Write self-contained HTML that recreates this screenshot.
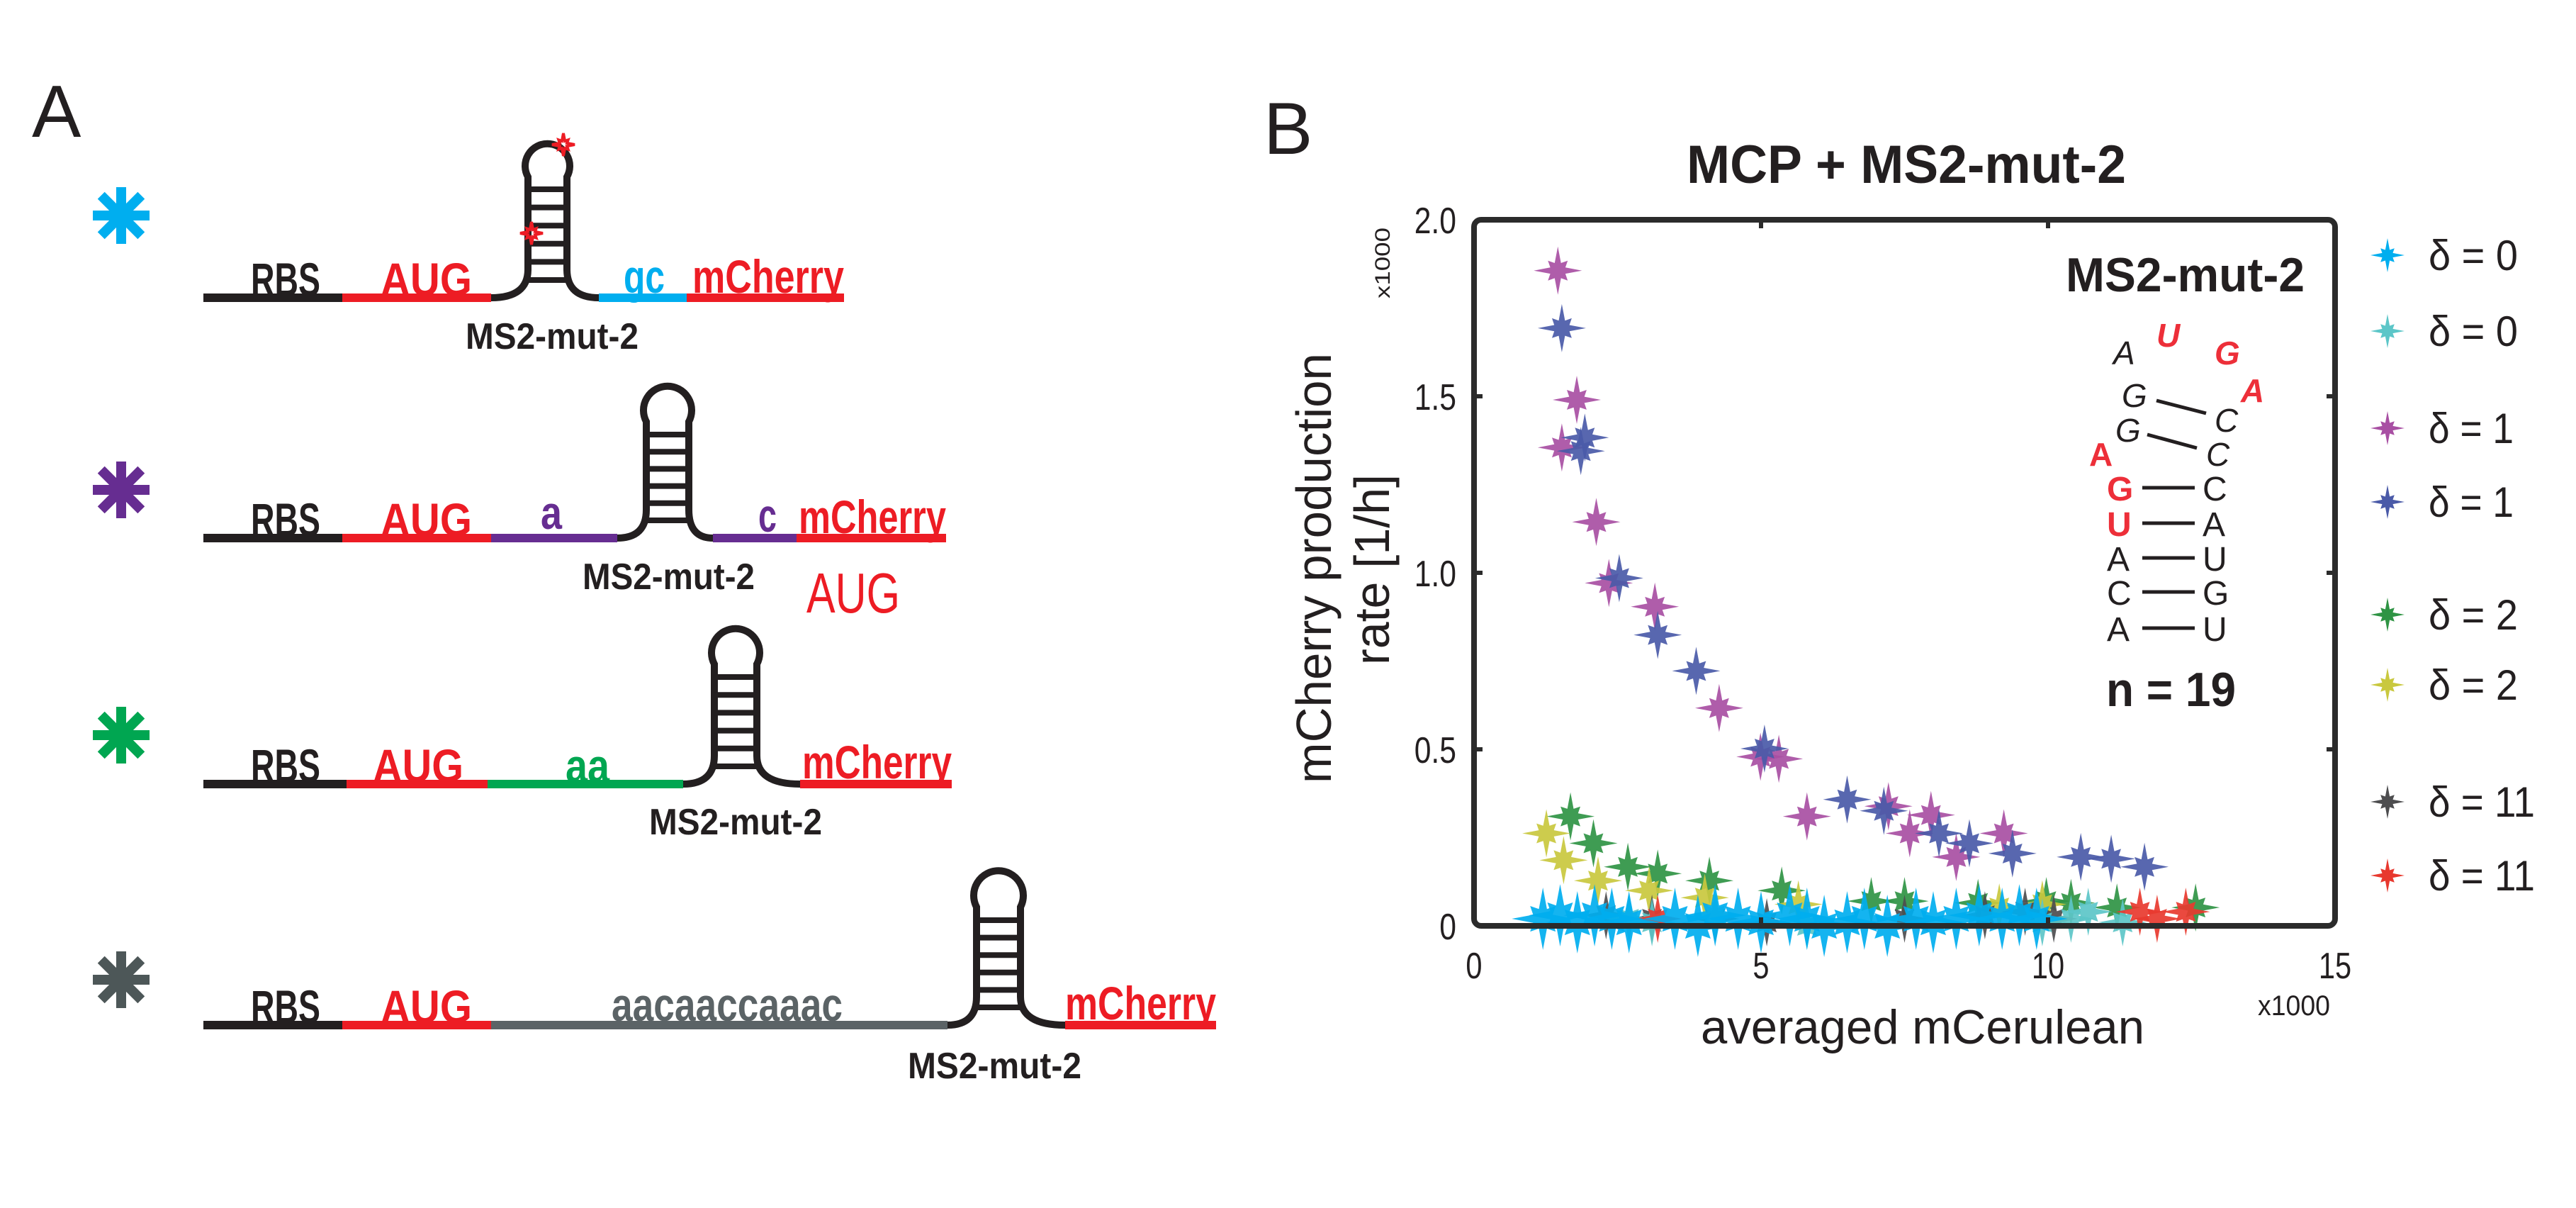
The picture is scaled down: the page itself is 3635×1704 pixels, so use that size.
<!DOCTYPE html>
<html><head><meta charset="utf-8"><style>
html,body{margin:0;padding:0;background:#fff;}
svg{display:block;}
text{font-family:"Liberation Sans",sans-serif;}
</style></head><body>
<svg id="fig" width="3635" height="1704" viewBox="0 0 3635 1704" xmlns="http://www.w3.org/2000/svg">
<rect width="3635" height="1704" fill="#fff"/>
<g id="panelA">
<text x="45" y="193" font-size="104" fill="#231f20">A</text>
</g>
<g id="panelB">
<text x="1783" y="217" font-size="104" fill="#231f20">B</text>
<text x="2380" y="258" font-size="76" font-weight="bold" fill="#231f20" textLength="620" lengthAdjust="spacingAndGlyphs">MCP + MS2-mut-2</text>
<text transform="translate(1878,1105) rotate(-90)" font-size="70" fill="#231f20" textLength="607" lengthAdjust="spacingAndGlyphs">mCherry production</text>
<text transform="translate(1960,938) rotate(-90)" font-size="70" fill="#231f20" textLength="269" lengthAdjust="spacingAndGlyphs">rate [1/h]</text>
<text transform="translate(1961,421) rotate(-90)" font-size="30" fill="#231f20" textLength="100" lengthAdjust="spacingAndGlyphs">x1000</text>
<text x="2400" y="1472" font-size="68" fill="#231f20" textLength="626" lengthAdjust="spacingAndGlyphs">averaged mCerulean</text>
<text x="3186" y="1432" font-size="40" fill="#231f20" textLength="102" lengthAdjust="spacingAndGlyphs">x1000</text>
<g id="plotArea"></g>
<g id="axes"></g>
<g id="inset">
<text x="2915" y="411" font-size="68" font-weight="bold" fill="#231f20" textLength="337" lengthAdjust="spacingAndGlyphs">MS2-mut-2</text>
<text x="2982" y="514" font-size="46" font-style="italic" fill="#231f20">A</text>
<text x="3043" y="489" font-size="46" font-style="italic" font-weight="bold" fill="#ed2f39">U</text>
<text x="3125" y="514" font-size="46" font-style="italic" font-weight="bold" fill="#ed2f39">G</text>
<text x="3162" y="567" font-size="46" font-style="italic" font-weight="bold" fill="#ed2f39">A</text>
<text x="2994" y="574" font-size="46" font-style="italic" fill="#231f20">G</text>
<text x="3125" y="609" font-size="46" font-style="italic" fill="#231f20">C</text>
<text x="2985" y="623" font-size="46" font-style="italic" fill="#231f20">G</text>
<text x="3113" y="657" font-size="46" font-style="italic" fill="#231f20">C</text>
<text x="2948" y="657" font-size="46" font-weight="bold" fill="#ed2f39">A</text>
<line x1="3043" y1="565" x2="3113" y2="583" stroke="#231f20" stroke-width="5"/>
<line x1="3030" y1="613" x2="3100" y2="632" stroke="#231f20" stroke-width="5"/>
<g id="pairs"></g>
<text x="2972" y="996" font-size="68" font-weight="bold" fill="#231f20" textLength="183" lengthAdjust="spacingAndGlyphs">n = 19</text>
</g>
<g id="legend"></g>
</g>
</svg>
<script>
const NS="http://www.w3.org/2000/svg";
function mk(tag,attrs,parent){const e=document.createElementNS(NS,tag);for(const k in attrs)e.setAttribute(k,attrs[k]);parent.appendChild(e);return e;}

const xTicks=[0,5,10,15];
const xTickLabels=['0','5','10','15'];
const yTicks=[0,0.5,1.0,1.5,2.0];
const yTickLabels=['0','0.5','1.0','1.5','2.0'];
const seriesNames=['δ = 0','δ = 0','δ = 1','δ = 1','δ = 2','δ = 2','δ = 11','δ = 11'];
const seriesColors=['#00aeef','#5cc6c8','#a84fa3','#4a5aa8','#2f9444','#c9c83e','#4d4d4f','#e8392f'];
const cyanX=[1.2,1.5,1.8,2.1,2.4,2.7,3.5,3.9,4.2,4.6,5.0,5.5,5.8,6.1,6.5,6.8,7.2,7.7,8.0,8.4,8.8,9.2,9.5,9.8];
const cyanY=[0.02,0.03,0.01,0.03,0.02,0.01,0.02,0.0,0.03,0.02,0.01,0.03,0.02,0.0,0.01,0.02,0.0,0.02,0.01,0.02,0.03,0.02,0.03,0.02];
const tealX=[2.7,3.1,4.2,5.8,9.9,10.4,10.7,11.3];
const tealY=[0.02,0.01,0.03,0.0,0.01,0.02,0.04,0.01];
const magentaX=[1.46,1.79,1.53,2.13,2.35,3.15,4.27,4.99,5.31,5.8,7.22,7.59,7.96,8.4,9.23];
const magentaY=[1.856,1.49,1.355,1.144,0.971,0.904,0.617,0.479,0.473,0.31,0.339,0.262,0.314,0.195,0.262];
const blueX=[1.53,1.93,1.86,2.53,3.2,3.87,5.06,6.5,7.14,8.1,8.63,9.38,10.57,11.1,11.68];
const blueY=[1.693,1.383,1.345,0.985,0.824,0.722,0.502,0.358,0.326,0.262,0.234,0.205,0.195,0.19,0.167];
const greenX=[1.68,2.08,2.68,3.2,4.1,5.36,6.92,7.5,8.78,9.97,10.4,11.2,12.57];
const greenY=[0.31,0.234,0.167,0.148,0.128,0.1,0.07,0.07,0.065,0.07,0.065,0.052,0.052];
const yellowX=[1.26,1.56,2.16,3.05,4.02,5.65,9.15,9.9];
const yellowY=[0.262,0.186,0.128,0.1,0.08,0.061,0.052,0.061];
const grayX=[2.3,3.1,4.2,5.1,7.5,8.9,9.6,10.1];
const grayY=[0.03,0.02,0.02,0.01,0.02,0.03,0.04,0.02];
const redX=[3.2,11.6,11.9,12.4];
const redY=[0.02,0.04,0.02,0.04];

const X0=2080,X1=3295,Y0=1306,Y1=310;
const sx=v=>X0+(v-0)/(15-0)*(X1-X0);
const sy=v=>Y0-(v-0)/(2.0-0)*(Y0-Y1);

function starPath(cx,cy,s){
  let p='';
  for(let i=0;i<16;i++){
    const a=i*Math.PI/8;
    let r;
    if(i%4===0)r=s; else if(i%4===2)r=s*0.58; else r=s*0.34;
    const x=cx+r*Math.cos(a),y=cy+r*Math.sin(a);
    p+=(i?'L':'M')+x.toFixed(1)+' '+y.toFixed(1);
  }
  return p+'Z';
}

const plot=document.getElementById('plotArea');
const allSeries=[[cyanX,cyanY,0],[tealX,tealY,1],[magentaX,magentaY,2],[blueX,blueY,3],[greenX,greenY,4],[yellowX,yellowY,5],[grayX,grayY,6],[redX,redY,7]];
const drawOrder=[4,5,2,3,6,1,7,0];
drawOrder.forEach(function(si){
  const s=allSeries.find(a=>a[2]===si);
  const g=mk('g',{},plot);
  
  
  s[0].forEach(function(xv,i){
    const big=(si===0)?44:34;
    const m=mk('path',{d:starPath(sx(xv),sy(s[1][i]),big),fill:seriesColors[si],'fill-opacity':0.92},g);
    
    
  });
});

const ax=document.getElementById('axes');
const box=mk('rect',{x:X0,y:Y1,width:X1-X0,height:Y0-Y1,rx:10,fill:'none',stroke:'#2b2b2b','stroke-width':8},ax);


xTicks.forEach(function(t,i){
  if(i>0&&i<xTicks.length-1){
    mk('line',{x1:sx(t),y1:Y1,x2:sx(t),y2:Y1+12,stroke:'#2b2b2b','stroke-width':6},ax);
    mk('line',{x1:sx(t),y1:Y0,x2:sx(t),y2:Y0-12,stroke:'#2b2b2b','stroke-width':6},ax);
  }
  const tl=mk('text',{x:sx(t),y:1380,'font-size':52,'text-anchor':'middle',fill:'#231f20',transform:'translate('+sx(t)+',0) scale(0.8,1) translate('+(-sx(t))+',0)'},ax);
  tl.textContent=xTickLabels[i];
  
  
});
yTicks.forEach(function(t,i){
  if(i>0&&i<yTicks.length-1){
    mk('line',{x1:X0,y1:sy(t),x2:X0+12,y2:sy(t),stroke:'#2b2b2b','stroke-width':6},ax);
    mk('line',{x1:X1,y1:sy(t),x2:X1-12,y2:sy(t),stroke:'#2b2b2b','stroke-width':6},ax);
  }
  const tl=mk('text',{x:2055,y:sy(t)+19,'font-size':52,'text-anchor':'end',fill:'#231f20',transform:'translate(2055,0) scale(0.82,1) translate(-2055,0)'},ax);
  tl.textContent=yTickLabels[i];
  
  
});

const pairL=['G','U','A','C','A'],pairR=['C','A','U','G','U'],pairBase=[706,756,805,853,904],pairRed=[true,true,false,false,false];
const pg=document.getElementById('pairs');
pairL.forEach(function(c,i){
  const a=mk('text',{x:2973,y:pairBase[i],'font-size':48,fill:pairRed[i]?'#ed2f39':'#231f20','font-weight':pairRed[i]?'bold':'normal'},pg);
  a.textContent=c;
  
  
  const b=mk('text',{x:3108,y:pairBase[i],'font-size':48,fill:'#231f20'},pg);
  b.textContent=pairR[i];
  
  
  mk('line',{x1:3023,y1:pairBase[i]-18,x2:3097,y2:pairBase[i]-18,stroke:'#231f20','stroke-width':5},pg);
});

const legY=[360,467,604,708,867,966,1131,1235];
const legW=[126,126,120,120,126,126,150,150];
const lg=document.getElementById('legend');
seriesNames.forEach(function(n,i){
  const m=mk('path',{d:starPath(3369,legY[i],24),fill:seriesColors[i]},lg);
  
  
  const t=mk('text',{x:3427,y:legY[i]+21,'font-size':60,fill:'#231f20',textLength:legW[i],lengthAdjust:'spacingAndGlyphs'},lg);
  t.textContent=n;
  
  
});

const A=document.getElementById('panelA');
function asterisk(cx,cy,col){
  const g=mk('g',{},A);
  
  
  for(let k=0;k<4;k++){
    const a=k*Math.PI/4;
    mk('line',{x1:cx-40*Math.sin(a),y1:cy-40*Math.cos(a),x2:cx+40*Math.sin(a),y2:cy+40*Math.cos(a),stroke:col,'stroke-width':14},g);
  }
}
function seg(x1,x2,y,col){mk('line',{x1:x1,y1:y,x2:x2,y2:y,stroke:col,'stroke-width':12},A);}
function txt(x,y,s,col,w,fs,name,bold){
  const t=mk('text',{x:x,y:y,'font-size':fs,fill:col,'font-weight':bold===false?'normal':'bold',textLength:w,lengthAdjust:'spacingAndGlyphs'},A);
  t.textContent=s;
  
  
}
function stemloop(sxl,sxr,lineY,topY,leftStart,rightEnd){
  const g=mk('g',{fill:'none',stroke:'#231f20','stroke-width':10},A);
  
  
  const r=(sxr-sxl)/2+4,cy=topY+r;
  mk('path',{d:'M'+leftStart+' '+lineY+' Q'+sxl+' '+lineY+' '+sxl+' '+(lineY-40)+' L'+sxl+' '+(cy+r*0.7)+' A'+r+' '+r+' 0 1 1 '+sxr+' '+(cy+r*0.7)+' L'+sxr+' '+(lineY-40)+' Q'+sxr+' '+lineY+' '+rightEnd+' '+lineY},g);
  const bot=lineY-25,top=cy+r+8;
  const n=6;
  for(let i=0;i<n;i++){const yy=top+(bot-top)*i/(n-1);mk('line',{x1:sxl,y1:yy,x2:sxr,y2:yy,'stroke-width':8},g);}
}
const black='#231f20',red='#ed1c24';
asterisk(171,304,'#00aeef');
seg(287,483,420,black);seg(483,693,420,red);
stemloop(745,800,420,196,693,845);
seg(845,969,420,'#00aeef');seg(969,1191,420,red);
txt(354,417,'RBS',black,98,66,'rbs-label');
txt(537,417,'AUG',red,129,66,'aug-label');
txt(880,413,'gc','#00aeef',58,66,'spacer-gc');
txt(977,413,'mCherry',red,214,66,'mcherry-label');
txt(657,492,'MS2-mut-2',black,244,52,'ms2-label');
mk('path',{d:starPath(795,204,16),fill:'none',stroke:red,'stroke-width':4},A);
mk('path',{d:starPath(750,329,16),fill:'none',stroke:red,'stroke-width':4},A);
asterisk(171,691,'#662d91');
seg(287,483,759,black);seg(483,693,759,red);seg(693,871,759,'#662d91');
stemloop(912,972,759,537,871,1006);
seg(1006,1124,759,'#662d91');seg(1124,1335,759,red);
txt(354,756,'RBS',black,98,66,'rbs-label');
txt(537,756,'AUG',red,129,66,'aug-label');
txt(763,746,'a','#662d91',30,66,'spacer-a');
txt(1070,750,'c','#662d91',26,66,'spacer-c');
txt(1127,752,'mCherry',red,208,66,'mcherry-label');
txt(822,831,'MS2-mut-2',black,243,52,'ms2-label');
txt(1138,864,'AUG',red,132,80,'aug-alt-label',false);
asterisk(171,1037,'#00a651');
seg(287,489,1106,black);seg(489,688,1106,red);seg(688,964,1106,'#00a651');
stemloop(1008,1068,1106,879,964,1129);
seg(1129,1343,1106,red);
txt(354,1103,'RBS',black,98,66,'rbs-label');
txt(526,1103,'AUG',red,128,66,'aug-label');
txt(798,1103,'aa','#00a651',62,66,'spacer-aa');
txt(1132,1098,'mCherry',red,211,66,'mcherry-label');
txt(916,1177,'MS2-mut-2',black,244,52,'ms2-label');
asterisk(171,1382,'#4d5758');
seg(287,483,1446,black);seg(483,693,1446,red);seg(693,1337,1446,'#5b6366');
stemloop(1378,1440,1446,1220,1337,1503);
seg(1503,1716,1446,red);
txt(354,1443,'RBS',black,98,66,'rbs-label');
txt(537,1443,'AUG',red,129,66,'aug-label');
txt(863,1440,'aacaaccaaac','#5b6366',326,66,'spacer-long');
txt(1503,1438,'mCherry',red,213,66,'mcherry-label');
txt(1281,1521,'MS2-mut-2',black,245,52,'ms2-label');
</script>
</body></html>
